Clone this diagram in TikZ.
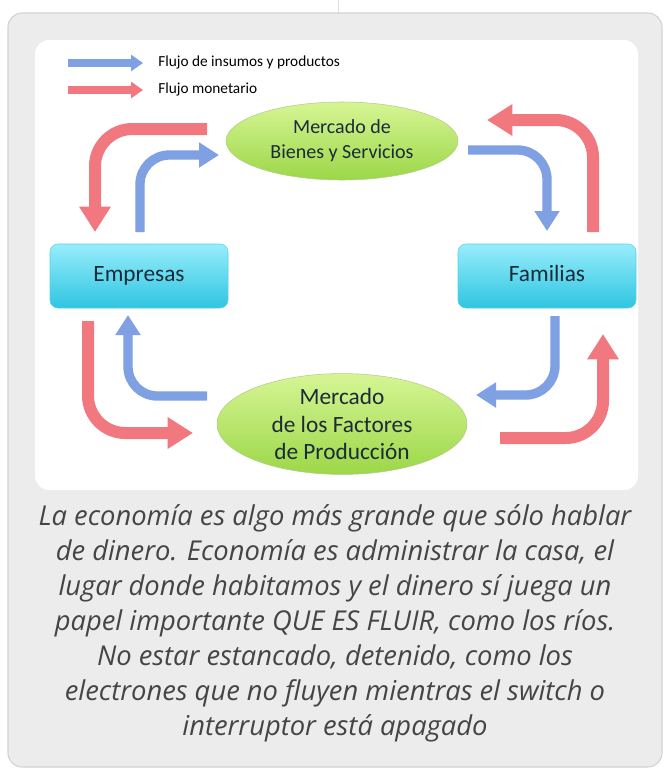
\documentclass[tikz,border=0pt]{standalone}
\usepackage{fontspec}
\setmainfont{Carlito}
\newfontfamily\notafont{Open Sans}
\usetikzlibrary{arrows.meta,shapes.geometric}
\definecolor{fondogris}{HTML}{ECECEC}
\definecolor{bordegris}{HTML}{D2D2D2}
\definecolor{verdeclaro}{HTML}{D6F594}
\definecolor{verdeoscuro}{HTML}{9CD748}
\definecolor{cianclaro}{HTML}{98EDFB}
\definecolor{cianoscuro}{HTML}{2EC5E1}
\definecolor{rojoflujo}{HTML}{F27880}
\definecolor{azulflujo}{HTML}{7FA1E4}
\definecolor{textonota}{HTML}{454545}
\definecolor{textonodo}{HTML}{1B2B3A}
\tikzset{
  mercado/.style={ellipse, draw=verdeoscuro!80!black!60, top color=verdeclaro, bottom color=verdeoscuro,
    inner sep=0pt, align=center, text=textonodo},
  agente/.style={rectangle, rounded corners=6pt, draw=cianoscuro!80, top color=cianclaro, bottom color=cianoscuro,
    minimum width=133.5pt, minimum height=48pt, text height=12pt, text depth=3.5pt,
    font=\fontsize{17.5}{21}\selectfont, text=textonodo},
  flujorojo/.style={draw=rojoflujo, line width=9pt, rounded corners=28pt, -{Triangle[width=22.5pt,length=19pt]}},
  flujoazul/.style={draw=azulflujo, line width=7pt, rounded corners=22pt, -{Triangle[width=18pt,length=15pt]}},
  leyenda/.style={anchor=west, inner sep=0.75pt, font=\fontsize{11.5}{13}\selectfont}
}
\begin{document}
\begin{tikzpicture}[x=0.75pt,y=0.75pt,yscale=-1,xscale=1]
        \useasboundingbox (0,0) rectangle (664,769);

        %Shape: card
        \draw [draw=black!12, line width=0.6pt] (338,0) -- (338,13) ;
        \draw [fill=fondogris, draw=bordegris, line width=0.8pt, rounded corners=10.5pt] (8,13) rectangle (662,767) ;
        \fill [white, rounded corners=10.5pt] (35,40) rectangle (638,490) ;

        %Legend
        \coordinate (leyAzulA) at (68,63);
        \coordinate (leyAzulB) at (143,63);
        \coordinate (leyRojoA) at (68,90);
        \coordinate (leyRojoB) at (143,90);
        \draw [draw=azulflujo, line width=6pt, -{Triangle[width=12pt,length=9pt]}] (leyAzulA) -- (leyAzulB) ;
        \draw [draw=rojoflujo, line width=6pt, -{Triangle[width=12pt,length=9pt]}] (leyRojoA) -- (leyRojoB) ;
        \node [leyenda] (insumos) at (157,62) {Flujo de insumos y productos};
        \node [leyenda] (monetario) at (157,89) {Flujo monetario};

        %Nodes
        \node [mercado, minimum width=174pt, minimum height=58.5pt, font=\fontsize{15}{18.75}\selectfont] (bienes) at (342,141) {Mercado de\\Bienes y Servicios};
        \node [mercado, minimum width=187.5pt, minimum height=67.5pt, font=\fontsize{17.5}{20.6}\selectfont] (factores) at (342,424) {Mercado\\de los Factores\\de Producción};
        \node [agente] (empresas) at (139,276) {Empresas};
        \node [agente] (familias) at (547,276) {Familias};

        %Flow ends
        \coordinate (rojo1a) at (207,129);
        \coordinate (rojo1b) at (95,232);
        \coordinate (azul1a) at (140,232);
        \coordinate (azul1b) at (219,155);
        \coordinate (azul2a) at (468,150);
        \coordinate (azul2b) at (547,231);
        \coordinate (rojo2a) at (593,232);
        \coordinate (rojo2b) at (487,120);
        \coordinate (rojo3a) at (88,321);
        \coordinate (rojo3b) at (193,433);
        \coordinate (azul3a) at (207,396);
        \coordinate (azul3b) at (128,315);
        \coordinate (azul4a) at (555,316);
        \coordinate (azul4b) at (476,395);
        \coordinate (rojo4a) at (500,438);
        \coordinate (rojo4b) at (603,334);

        %Flows
        \draw [flujorojo] (rojo1a) -| (rojo1b) ;
        \draw [flujoazul] (azul1a) |- (azul1b) ;
        \draw [flujoazul] (azul2a) -| (azul2b) ;
        \draw [flujorojo] (rojo2a) |- (rojo2b) ;
        \draw [flujorojo] (rojo3a) |- (rojo3b) ;
        \draw [flujoazul] (azul3a) -| (azul3b) ;
        \draw [flujoazul] (azul4a) |- (azul4b) ;
        \draw [flujorojo] (rojo4a) -| (rojo4b) ;

        % Text Node
        \node [align=center, inner sep=0pt, text=textonota, font=\notafont\itshape\fontsize{20.5}{26.25}\selectfont] (nota) at (335,623)
          {La economía es algo más grande que sólo hablar\\
           de dinero. Economía es administrar la casa, el\\
           lugar donde habitamos y el dinero sí juega un\\
           papel importante QUE ES FLUIR, como los ríos.\\
           No estar estancado, detenido, como los\\
           electrones que no fluyen mientras el switch o\\
           interruptor está apagado};
\end{tikzpicture}
\end{document}
